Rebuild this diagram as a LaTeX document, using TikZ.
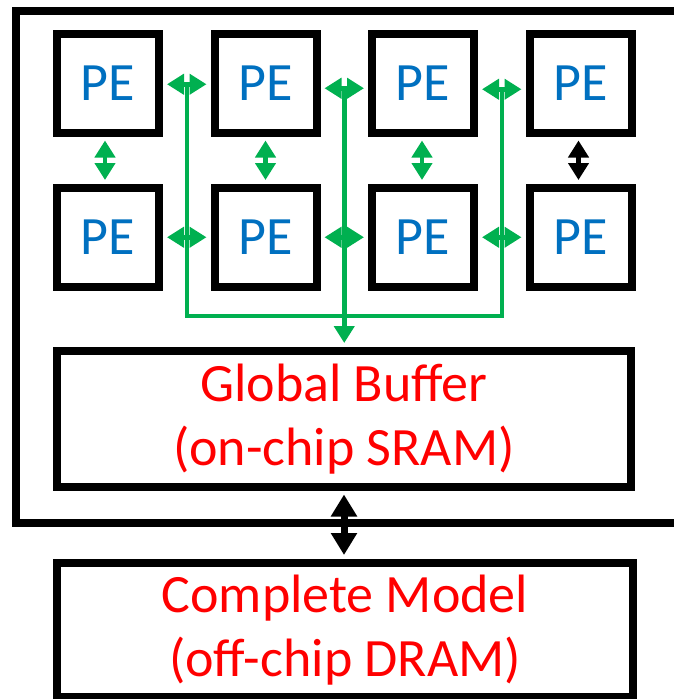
\documentclass[tikz,border=0pt]{standalone}
\usepackage{fontspec}
\setmainfont{Carlito}
\usetikzlibrary{arrows.meta,calc}
\definecolor{peblue}{HTML}{0070C0}
\definecolor{pegreen}{HTML}{00B050}
\definecolor{labred}{HTML}{FF0000}
\begin{document}
\begin{tikzpicture}[x=1pt,y=-1pt,
  box/.style={draw=black, line width=8pt, inner sep=0pt},
  pe/.style={box, minimum width=102pt, minimum height=98.5pt, text=peblue, font=\fontsize{54}{64}\selectfont},
  mem/.style={box, text=labred, align=center, font=\fontsize{54}{64}\selectfont},
  gtip/.style={Triangle[length=17pt,width=20pt]},
  garrow/.style={draw=pegreen, line width=4.5pt, {Triangle[length=17pt,width=20pt]}-{Triangle[length=17pt,width=20pt]}, shorten >=4pt, shorten <=4pt},
  karrow/.style={draw=black, line width=4.5pt, {Triangle[length=17pt,width=20pt]}-{Triangle[length=17pt,width=20pt]}, shorten >=4pt, shorten <=4pt},
  bigarrow/.style={draw=black, line width=7pt, {Triangle[length=22pt,width=25pt]}-{Triangle[length=22pt,width=25pt]}, shorten >=4pt, shorten <=4pt},
  gline/.style={draw=pegreen, line width=4.5pt},
  gdown/.style={draw=pegreen, line width=4.5pt, -{Triangle[length=17pt,width=20pt]}, shorten >=4pt}]
\useasboundingbox (0,0) rectangle (674,699);
% outer chip box
\node[box, minimum width=661.5pt, minimum height=512.5pt] (chip) at (346.75,266.75) {};
% PEs
\node[pe] (p11) at (108,83.25) {PE};
\node[pe] (p12) at (265.5,83.25) {PE};
\node[pe] (p13) at (423,83.25) {PE};
\node[pe] (p14) at (580.5,83.25) {PE};
\node[pe] (p21) at (108,237.25) {PE};
\node[pe] (p22) at (265.5,237.25) {PE};
\node[pe] (p23) at (423,237.25) {PE};
\node[pe] (p24) at (580.5,237.25) {PE};
% memories
\node[mem, minimum width=574pt, minimum height=135.5pt] (gb) at (344,418.75) {Global Buffer\\(on-chip SRAM)};
\node[mem, minimum width=576pt, minimum height=134pt] (cm) at (345,630) {Complete Model\\(off-chip DRAM)};
% top row horizontal arrows
\draw[garrow] ([yshift=-1pt]p11.east) -- ([yshift=-1pt]p12.west);
\draw[garrow] ([yshift=-5pt]p12.east) -- ([yshift=-5pt]p13.west);
\draw[garrow] ([yshift=-6pt]p13.east) -- ([yshift=-6pt]p14.west);
% bottom row horizontal arrows
\draw[garrow] (p21.east) -- (p22.west);
\draw[garrow] (p22.east) -- (p23.west);
\draw[garrow] (p23.east) -- (p24.west);
% vertical arrows between rows
\draw[garrow] ([xshift=-3pt]p11.south) -- ([xshift=-3pt]p21.north);
\draw[garrow] (p12.south) -- (p22.north);
\draw[garrow] ([xshift=-1pt]p13.south) -- ([xshift=-1pt]p23.north);
\draw[karrow] ([xshift=-2pt]p14.south) -- ([xshift=-2pt]p24.north);
% bus
\coordinate (a1) at ($([yshift=-1pt]p11.east)!0.5!([yshift=-1pt]p12.west)$);
\coordinate (a2) at ($([yshift=-5pt]p12.east)!0.5!([yshift=-5pt]p13.west)$);
\coordinate (a3) at ($([yshift=-6pt]p13.east)!0.5!([yshift=-6pt]p14.west)$);
\coordinate (bL) at (a1 |- 0,316);
\coordinate (bR) at (a3 |- 0,316);
\draw[gline] (a1) -- (bL) -- (bR) -- (a3);
\draw[gdown] (a2) -- (a2 |- gb.north);
% off-chip link
\draw[bigarrow] (gb.south) -- (gb.south |- cm.north);
\end{tikzpicture}
\end{document}
